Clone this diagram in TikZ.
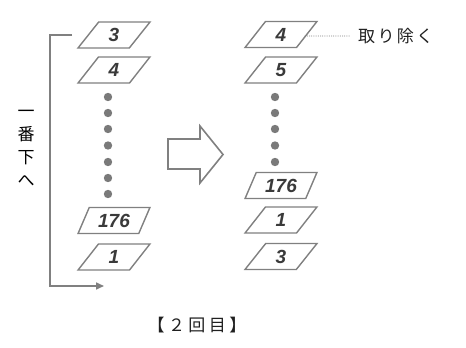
\documentclass[tikz,border=0pt]{standalone}
\usepackage{fontspec}
\setmainfont{Liberation Sans}
\newfontfamily\jpfont[LetterSpace=20]{Noto Sans CJK JP}
\newfontfamily\jpremove[LetterSpace=14]{Noto Sans CJK JP}
\newfontfamily\jpvert{Noto Sans CJK JP}
\usetikzlibrary{shapes.geometric,arrows.meta}
\definecolor{linegray}{HTML}{808080}
\definecolor{numgray}{HTML}{3A3A3A}
\definecolor{dotgray}{HTML}{7A7A7A}
\definecolor{jptext}{HTML}{202020}
\tikzset{
  card/.style={shape=trapezium, trapezium left angle=62, trapezium right angle=118,
    trapezium stretches=true, minimum width=72pt, minimum height=26pt, inner sep=0pt,
    draw=linegray, line width=1.4pt, fill=white, text=numgray,
    font=\fontsize{19}{19}\selectfont\bfseries\itshape},
  dot/.style={circle, fill=dotgray, minimum size=8.4pt, inner sep=0pt},
  bracket/.style={draw=linegray, line width=1.6pt},
  bigarrow/.style={draw=linegray, line width=1.6pt, fill=white, line join=miter},
  remove/.style={draw=linegray, line width=0.9pt, dash pattern=on 1pt off 1.2pt},
}
\begin{document}
\begin{tikzpicture}[x=1pt,y=-1pt]
\useasboundingbox (0,0) rectangle (466,348);
% left column
\node[card] (L3) at (114,35) {3};
\node[card] (L4) at (114,70) {4};
\foreach \i/\y in {1/97,2/113,3/129,4/145.5,5/162,6/178,7/194}
  \node[dot] (ld\i) at (108,\y) {};
\node[card] (L176) at (114,220.5) {176};
\node[card] (L1) at (114,257) {1};
% bracket
\coordinate (bstart) at (72,35);
\coordinate (bc1) at (50,35);
\coordinate (bc2) at (50,286);
\coordinate (bend) at (104,286);
\draw[bracket, -{Triangle[length=8pt,width=7pt]}] (bstart) -- (bc1) -- (bc2) -- (bend);
\node[font=\jpvert\fontsize{17}{23}\selectfont, align=center, text=black] (vt) at (26,148) {一\\番\\下\\へ};
% big arrow
\draw[bigarrow] (168,139) -- (200,139) -- (200,126) -- (223,154.5) -- (200,183) -- (200,169) -- (168,169) -- cycle;
% right column
\node[card] (R4) at (281,34.5) {4};
\node[card] (R5) at (281,70) {5};
\foreach \i/\y in {1/97,2/113,3/129,4/145.5,5/162}
  \node[dot] (rd\i) at (275,\y) {};
\node[card] (R176) at (281,185.5) {176};
\node[card] (R1) at (281,220) {1};
\node[card] (R3) at (281,256.5) {3};
% remove label
\node[font=\jpremove\fontsize{17}{17}\selectfont, text=jptext, anchor=west, inner xsep=0pt, inner ysep=0pt] (rm) at (358,36) {取り除く};
\draw[remove] (R4.east) ++(-3,1.5) coordinate (rs) (rs) -- ([xshift=-8pt]rm.west);
% caption
\node[font=\jpfont\fontsize{17}{17}\selectfont, text=jptext] (cap) at (197,325) {【２回目】};
\end{tikzpicture}
\end{document}
